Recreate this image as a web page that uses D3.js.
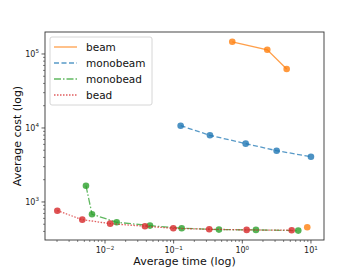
<!DOCTYPE html>
<html>
<head>
    <script src="https://cdn.jsdelivr.net/npm/d3@7"></script>
    <style>
        body { margin: 0; background: #fff; }
        text { font-family: "DejaVu Sans", sans-serif; }
    </style>
</head>
<body>
<div id="chart"></div>
<script>
    // values (time in s, cost)
    var beamTime = [0.714, 2.31, 4.43];
    var beamCost = [146000, 114000, 62700];
    var beamExtraTime = [8.83];
    var beamExtraCost = [455];
    var monobeamTime = [0.1265, 0.338, 1.12, 3.16, 10.0];
    var monobeamCost = [10740, 7960, 6140, 4930, 4090];
    var monobeadTime = [0.00528, 0.00647, 0.0148, 0.0452, 0.131, 0.457, 1.58, 6.53];
    var monobeadCost = [1660, 682, 532, 479, 441, 423, 419, 410];
    var beadTime = [0.00202, 0.00467, 0.0119, 0.0382, 0.0989, 0.330, 1.157, 5.24];
    var beadCost = [762, 577, 509, 470, 441, 428, 419, 415];
    var xTicks = [-2, -1, 0, 1];
    var yTicks = [3, 4, 5];

    var width = 360, height = 270;
    var plotLeft = 45, plotRight = 324, plotTop = 32, plotBottom = 240;

    var x = d3.scaleLog().domain([Math.pow(10, -2.874), Math.pow(10, 1.19)]).range([plotLeft, plotRight]);
    var y = d3.scaleLog().domain([Math.pow(10, 2.486), Math.pow(10, 5.297)]).range([plotBottom, plotTop]);

    var svg = d3.select("#chart").append("svg")
        .attr("width", width)
        .attr("height", height);

    function zip(a, b) { return a.map(function(v, i) { return {t: v, c: b[i]}; }); }

    var series = [
        {name: "beam", data: zip(beamTime, beamCost), color: "#ff7f0e", dash: null},
        {name: "monobeam", data: zip(monobeamTime, monobeamCost), color: "#1f77b4", dash: "5,2.5"},
        {name: "monobead", data: zip(monobeadTime, monobeadCost), color: "#2ca02c", dash: "7,2,1.5,2"},
        {name: "bead", data: zip(beadTime, beadCost), color: "#d62728", dash: "1.5,1.5"}
    ];

    var line = d3.line()
        .x(function(d) { return x(d.t); })
        .y(function(d) { return y(d.c); });

    // minor ticks
    var minorX = [], minorY = [];
    for (var e = -3; e <= 1; e++) {
        for (var m = 2; m <= 9; m++) {
            var v = m * Math.pow(10, e);
            if (v > x.domain()[0] && v < x.domain()[1]) minorX.push(v);
        }
    }
    for (var e2 = 2; e2 <= 5; e2++) {
        for (var m2 = 2; m2 <= 9; m2++) {
            var v2 = m2 * Math.pow(10, e2);
            if (v2 > y.domain()[0] && v2 < y.domain()[1]) minorY.push(v2);
        }
    }

    var axisColor = "#333";
    svg.selectAll(".mx").data(minorX).enter().append("line")
        .attr("x1", function(d) { return x(d); }).attr("x2", function(d) { return x(d); })
        .attr("y1", plotBottom).attr("y2", plotBottom + 2)
        .attr("stroke", axisColor).attr("stroke-width", 0.6);
    svg.selectAll(".my").data(minorY).enter().append("line")
        .attr("y1", function(d) { return y(d); }).attr("y2", function(d) { return y(d); })
        .attr("x1", plotLeft).attr("x2", plotLeft - 2)
        .attr("stroke", axisColor).attr("stroke-width", 0.6);

    // major ticks and labels
    xTicks.forEach(function(p) {
        var px = x(Math.pow(10, p));
        svg.append("line").attr("x1", px).attr("x2", px).attr("y1", plotBottom).attr("y2", plotBottom + 3.5)
            .attr("stroke", axisColor).attr("stroke-width", 0.8);
        var t = svg.append("text").attr("x", px).attr("y", plotBottom + 13)
            .attr("text-anchor", "middle").attr("font-size", 8).attr("fill", "#222");
        t.append("tspan").text("10");
        t.append("tspan").attr("dy", -3.5).attr("font-size", 5.6).text(p < 0 ? "\u2212" + (-p) : p);
    });
    yTicks.forEach(function(p) {
        var py = y(Math.pow(10, p));
        svg.append("line").attr("y1", py).attr("y2", py).attr("x1", plotLeft).attr("x2", plotLeft - 3.5)
            .attr("stroke", axisColor).attr("stroke-width", 0.8);
        var t = svg.append("text").attr("x", plotLeft - 6).attr("y", py + 3)
            .attr("text-anchor", "end").attr("font-size", 8).attr("fill", "#222");
        t.append("tspan").text("10");
        t.append("tspan").attr("dy", -3.5).attr("font-size", 5.6).text(p);
    });

    // lines and markers
    series.forEach(function(s) {
        svg.append("path")
            .datum(s.data)
            .attr("fill", "none")
            .attr("stroke", s.color)
            .attr("stroke-opacity", 0.75)
            .attr("stroke-width", 1.3)
            .attr("stroke-dasharray", s.dash)
            .attr("d", line);
        svg.selectAll(null).data(s.data).enter().append("circle")
            .attr("cx", function(d) { return x(d.t); })
            .attr("cy", function(d) { return y(d.c); })
            .attr("r", 3.3)
            .attr("fill", s.color)
            .attr("fill-opacity", 0.8);
    });
    svg.selectAll(null).data(zip(beamExtraTime, beamExtraCost)).enter().append("circle")
        .attr("cx", function(d) { return x(d.t); })
        .attr("cy", function(d) { return y(d.c); })
        .attr("r", 3.3)
        .attr("fill", "#ff7f0e")
        .attr("fill-opacity", 0.8);

    // frame
    svg.append("rect")
        .attr("x", plotLeft).attr("y", plotTop)
        .attr("width", plotRight - plotLeft).attr("height", plotBottom - plotTop)
        .attr("fill", "none").attr("stroke", axisColor).attr("stroke-width", 0.9);

    // legend
    var lg = svg.append("g");
    lg.append("rect")
        .attr("x", 50).attr("y", 37).attr("width", 102).attr("height", 68).attr("rx", 2)
        .attr("fill", "#fff").attr("fill-opacity", 0.8)
        .attr("stroke", "#ccc").attr("stroke-width", 0.8);
    series.forEach(function(s, i) {
        var ly = 47 + i * 16;
        lg.append("line")
            .attr("x1", 54).attr("x2", 77).attr("y1", ly).attr("y2", ly)
            .attr("stroke", s.color).attr("stroke-opacity", 0.75)
            .attr("stroke-width", 1.3).attr("stroke-dasharray", s.dash);
        lg.append("text")
            .attr("x", 86).attr("y", ly + 4)
            .attr("font-size", 10.5).attr("fill", "#111")
            .text(s.name);
    });

    // axis labels
    svg.append("text")
        .attr("x", (plotLeft + plotRight) / 2).attr("y", 265)
        .attr("text-anchor", "middle").attr("font-size", 11).attr("fill", "#111")
        .text("Average time (log)");
    svg.append("text")
        .attr("transform", "translate(21," + ((plotTop + plotBottom) / 2) + ") rotate(-90)")
        .attr("text-anchor", "middle").attr("font-size", 11).attr("fill", "#111")
        .text("Average cost (log)");
</script>
</body>
</html>
